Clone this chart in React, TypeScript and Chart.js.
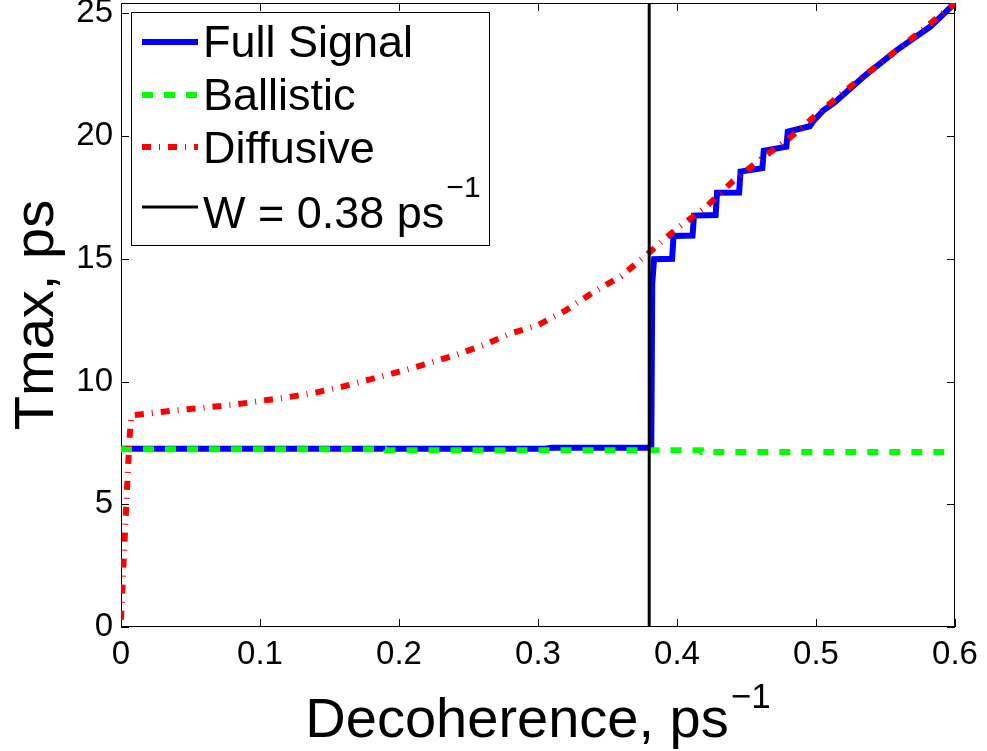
import React, { useEffect, useRef } from 'react';
import { Chart, registerables } from 'chart.js';

Chart.register(...registerables);

// ---------- data ----------
const xFull = [0, 0.305, 0.31, 0.3815, 0.3822, 0.3835, 0.3965, 0.3975, 0.4112, 0.4122, 0.4278, 0.4288, 0.4447, 0.4457, 0.4614, 0.4624, 0.4787, 0.4797, 0.4955, 0.498, 0.5056, 0.5128, 0.5343, 0.5584, 0.5823, 0.6];
const yFull = [7.26, 7.26, 7.3, 7.3, 14.0, 14.98, 15.0, 15.93, 15.95, 16.76, 16.78, 17.69, 17.7, 18.55, 18.69, 19.4, 19.57, 20.18, 20.4, 20.6, 21.06, 21.34, 22.42, 23.51, 24.46, 25.42];

const xBall = [0, 0.19, 0.1905, 0.4175, 0.418, 0.6];
const yBall = [7.24, 7.24, 7.2, 7.2, 7.13, 7.13];

const xDiff = [0, 0.0015, 0.003, 0.0045, 0.006, 0.0075, 0.02, 0.04, 0.06, 0.08, 0.1, 0.12, 0.14, 0.16, 0.18, 0.2, 0.22, 0.24, 0.26, 0.28, 0.3, 0.32, 0.34, 0.36, 0.38, 0.4, 0.42, 0.44, 0.46, 0.48, 0.5, 0.52, 0.54, 0.56, 0.58, 0.6];
const yDiff = [0.3, 2.2, 4.0, 5.8, 7.6, 8.62, 8.7, 8.83, 8.94, 9.05, 9.2, 9.36, 9.55, 9.8, 10.1, 10.4, 10.72, 11.07, 11.47, 11.95, 12.3, 12.9, 13.65, 14.3, 15.25, 16.24, 17.07, 18.15, 19.05, 19.87, 20.85, 21.8, 22.7, 23.58, 24.48, 25.42];

const wValue = 0.38;

const xTicks = [0, 0.1, 0.2, 0.3, 0.4, 0.5, 0.6];
const yTicks = [0, 5, 10, 15, 20, 25];
const xMin = 0;
const xMax = 0.6;
const yMin = 0;
const yMax = 25.42;

const seriesLabels = ['Full Signal', 'Ballistic', 'Diffusive', `W = ${wValue} ps`];
const seriesSup = ['', '', '', '\u22121'];
const xTitle = 'Decoherence, ps';
const xTitleSup = '\u22121';
const yTitle = 'Tmax, ps';

// ---------- helpers ----------
const FONT = '"Liberation Sans", Arial, Helvetica, sans-serif';
const zip = (xs: number[], ys: number[]) => xs.map((x, i) => ({ x, y: ys[i] }));

const decorPlugin = {
  id: 'matlabDecor',
  beforeDatasetsDraw(chart: any) {
    const { ctx, chartArea: a, scales } = chart;
    const xs = scales.x;
    const ys = scales.y;
    ctx.save();
    ctx.strokeStyle = '#000';
    ctx.lineWidth = 1;
    ctx.setLineDash([]);
    ctx.strokeRect(a.left + 0.5, a.top + 0.5, a.right - a.left - 1, a.bottom - a.top - 1);
    const L = 8;
    ctx.beginPath();
    xTicks.forEach((v) => {
      const p = Math.round(xs.getPixelForValue(v)) + 0.5;
      ctx.moveTo(p, a.bottom);
      ctx.lineTo(p, a.bottom - L);
      ctx.moveTo(p, a.top);
      ctx.lineTo(p, a.top + L);
    });
    yTicks.forEach((v) => {
      const p = Math.round(ys.getPixelForValue(v)) + 0.5;
      ctx.moveTo(a.left, p);
      ctx.lineTo(a.left + L, p);
      ctx.moveTo(a.right, p);
      ctx.lineTo(a.right - L, p);
    });
    ctx.stroke();
    ctx.restore();
  },
  afterDraw(chart: any) {
    const { ctx, chartArea: a } = chart;
    ctx.save();
    ctx.fillStyle = '#000';
    ctx.textBaseline = 'alphabetic';

    // x title with superscript
    const mainSize = 56;
    const supSize = 35;
    ctx.font = `${mainSize}px ${FONT}`;
    const w1 = ctx.measureText(xTitle).width;
    ctx.font = `${supSize}px ${FONT}`;
    const w2 = ctx.measureText(xTitleSup).width;
    const gap = 2;
    const cx = (a.left + a.right) / 2;
    const sx = cx - (w1 + gap + w2) / 2;
    ctx.textAlign = 'left';
    ctx.font = `${mainSize}px ${FONT}`;
    ctx.fillText(xTitle, sx, 737);
    ctx.font = `${supSize}px ${FONT}`;
    ctx.fillText(xTitleSup, sx + w1 + gap, 708);

    // y title rotated
    ctx.save();
    ctx.translate(53, (a.top + a.bottom) / 2);
    ctx.rotate(-Math.PI / 2);
    ctx.textAlign = 'center';
    ctx.font = `${mainSize}px ${FONT}`;
    ctx.fillText(yTitle, 0, 0);
    ctx.restore();

    // legend
    const bx = 131, by = 12, bw = 358, bh = 233;
    ctx.fillStyle = '#fff';
    ctx.fillRect(bx, by, bw, bh);
    ctx.strokeStyle = '#000';
    ctx.lineWidth = 1;
    ctx.setLineDash([]);
    ctx.strokeRect(bx + 0.5, by + 0.5, bw, bh);

    const baselines = [57, 110, 163, 228];
    const lineYs = [42, 95, 147, 207];
    const legSize = 45;
    const legSup = 30;
    chart.data.datasets.forEach((ds: any, i: number) => {
      ctx.save();
      ctx.strokeStyle = ds.borderColor;
      ctx.lineWidth = ds.borderWidth;
      ctx.lineCap = 'butt';
      ctx.setLineDash(ds.borderDash || []);
      ctx.beginPath();
      ctx.moveTo(142, lineYs[i]);
      ctx.lineTo(198, lineYs[i]);
      ctx.stroke();
      ctx.restore();
      ctx.fillStyle = '#000';
      ctx.textAlign = 'left';
      ctx.font = `${legSize}px ${FONT}`;
      ctx.fillText(seriesLabels[i], 203, baselines[i]);
      if (seriesSup[i]) {
        const tw = ctx.measureText(seriesLabels[i]).width;
        ctx.font = `${legSup}px ${FONT}`;
        ctx.fillText(seriesSup[i], 203 + tw + 2, 197);
      }
    });
    ctx.restore();
  },
};

export default function App() {
  const ref = useRef<HTMLCanvasElement>(null);
  useEffect(() => {
    if (!ref.current) return;
    const chart = new Chart(ref.current, {
      type: 'line',
      data: {
        datasets: [
          {
            label: seriesLabels[0],
            data: zip(xFull, yFull),
            borderColor: '#0000ff',
            borderWidth: 6,
            pointRadius: 0,
            tension: 0,
            fill: false,
            order: 4,
          },
          {
            label: seriesLabels[1],
            data: zip(xBall, yBall),
            borderColor: '#00ff00',
            borderWidth: 6,
            borderDash: [11, 11],
            pointRadius: 0,
            tension: 0,
            fill: false,
            order: 3,
          },
          {
            label: seriesLabels[2],
            data: zip(xDiff, yDiff),
            borderColor: '#ff0000',
            borderWidth: 6,
            borderDash: [9, 8, 1, 8],
            pointRadius: 0,
            tension: 0,
            fill: false,
            order: 2,
          },
          {
            label: seriesLabels[3],
            data: [
              { x: wValue, y: yMin },
              { x: wValue, y: yMax },
            ],
            borderColor: '#000000',
            borderWidth: 3,
            pointRadius: 0,
            tension: 0,
            fill: false,
            order: 1,
          },
        ],
      },
      options: {
        responsive: false,
        animation: false,
        devicePixelRatio: 1,
        events: [],
        parsing: true,
        layout: { padding: { top: 3, right: 32, left: 0, bottom: 0 } },
        plugins: {
          legend: { display: false },
          tooltip: { enabled: false },
          title: { display: false },
        },
        scales: {
          x: {
            type: 'linear',
            min: xMin,
            max: xMax,
            grid: { display: false, drawTicks: false },
            border: { display: false },
            afterBuildTicks: (scale: any) => {
              scale.ticks = xTicks.map((v) => ({ value: v }));
            },
            ticks: {
              color: '#000',
              padding: 8,
              maxRotation: 0,
              autoSkip: false,
              font: { size: 33, family: FONT },
              callback: (v: any) => String(Math.round(Number(v) * 10) / 10),
            },
            afterFit: (scale: any) => {
              scale.height = 124;
              scale.paddingLeft = 0;
              scale.paddingRight = 0;
            },
          },
          y: {
            type: 'linear',
            min: yMin,
            max: yMax,
            grid: { display: false, drawTicks: false },
            border: { display: false },
            afterBuildTicks: (scale: any) => {
              scale.ticks = yTicks.map((v) => ({ value: v }));
            },
            ticks: {
              color: '#000',
              padding: 8,
              autoSkip: false,
              font: { size: 33, family: FONT },
              callback: (v: any) => String(v),
            },
            afterFit: (scale: any) => {
              scale.width = 121;
              scale.paddingTop = 0;
              scale.paddingBottom = 0;
            },
          },
        },
      } as any,
      plugins: [decorPlugin],
    } as any);
    return () => chart.destroy();
  }, []);
  return (
    <div style={{ position: 'fixed', left: 0, top: 0, width: 987, height: 751, background: '#fff' }}>
      <canvas ref={ref} width={987} height={751} style={{ display: 'block', width: 987, height: 751 }} />
    </div>
  );
}
